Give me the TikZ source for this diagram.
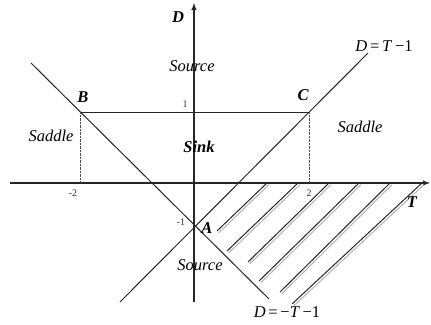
\documentclass[tikz,border=0pt]{standalone}
\usepackage{fontspec}
\setmainfont{Liberation Serif}
\usetikzlibrary{arrows.meta, positioning}
\tikzset{
  >=latex,  % frecce di default
  % assi e rette
  axis/.style={line width=1.4pt,black!85,->},
  retta/.style={line width=1pt,black!85},
  guida/.style={densely dotted,black!70},
  hatch/.style={line width=1pt,black!85},
  hatch shadow/.style={line width=1pt,black!30},
  % testi
  regione/.style={font=\itshape\fontsize{16.5}{16.5}\selectfont},
  punto/.style={font=\bfseries\itshape\fontsize{16.5}{16.5}\selectfont},
  tacca/.style={font=\fontsize{10}{10}\selectfont,text=black!80},
  eq/.style={font=\fontsize{16.5}{16.5}\selectfont}
}
\begin{document}
\begin{tikzpicture}[x=1pt,y=-1pt]
    \useasboundingbox (0,0) rectangle (431,324);
    % punti notevoli
    \coordinate (O) at (194,183);
    \coordinate (A) at (194,227);
    \coordinate (B) at (80,112);
    \coordinate (C) at (309,112);
    \coordinate (Bt) at (80,183);
    \coordinate (Ct) at (309,183);
    % assi
    \draw[axis] (10,183) -- (430,183);
    \draw[axis] (194,302) -- (194,3);
    % rette D=T-1 e D=-T-1
    \draw[retta] (120,302) -- (368,53);
    \draw[retta] (31,63) -- (269,299);
    \draw[retta] (B) -- (C);
    \draw[guida] (B) -- (Bt);
    \draw[guida] (C) -- (Ct);
    % regione tratteggiata
    \foreach \xt/\xb/\yb in {267/217/231, 298/227/251, 329/248/262, 359/259/281, 390/280/292, 422/292/304}{
      \draw[hatch shadow] (\xt+1.8,183+1.8) -- (\xb+1.8,\yb+1.8);
      \draw[hatch] (\xt,183) -- (\xb,\yb);
    }
    % etichette
    \node[punto] (lD) at (178,17) {D};
    \node[punto] (lT) at (412,202) {T};
    \node[punto] (lA) at (207,228) {A};
    \node[punto] (lB) at (83,97) {B};
    \node[punto] (lC) at (303,95) {C};
    \node[regione] (src1) at (192,66) {Source};
    \node[regione] (src2) at (200,265) {Source};
    \node[regione] (sad1) at (51,136) {Saddle};
    \node[regione] (sad2) at (360,127) {Saddle};
    \node[punto] (sink) at (199,147) {Sink};
    \node[eq] (eq1) at (384,46) {\textit{D}\,=\,\textit{T}\,−1};
    \node[eq] (eq2) at (287,312) {\textit{D}\,=\,−\textit{T}\,−1};
    \node[tacca] (t1) at (185,104) {1};
    \node[tacca] (tm1) at (181,222) {-1};
    \node[tacca] (tm2) at (73,193) {-2};
    \node[tacca] (t2) at (309,193) {2};
  \end{tikzpicture}
\end{document}
